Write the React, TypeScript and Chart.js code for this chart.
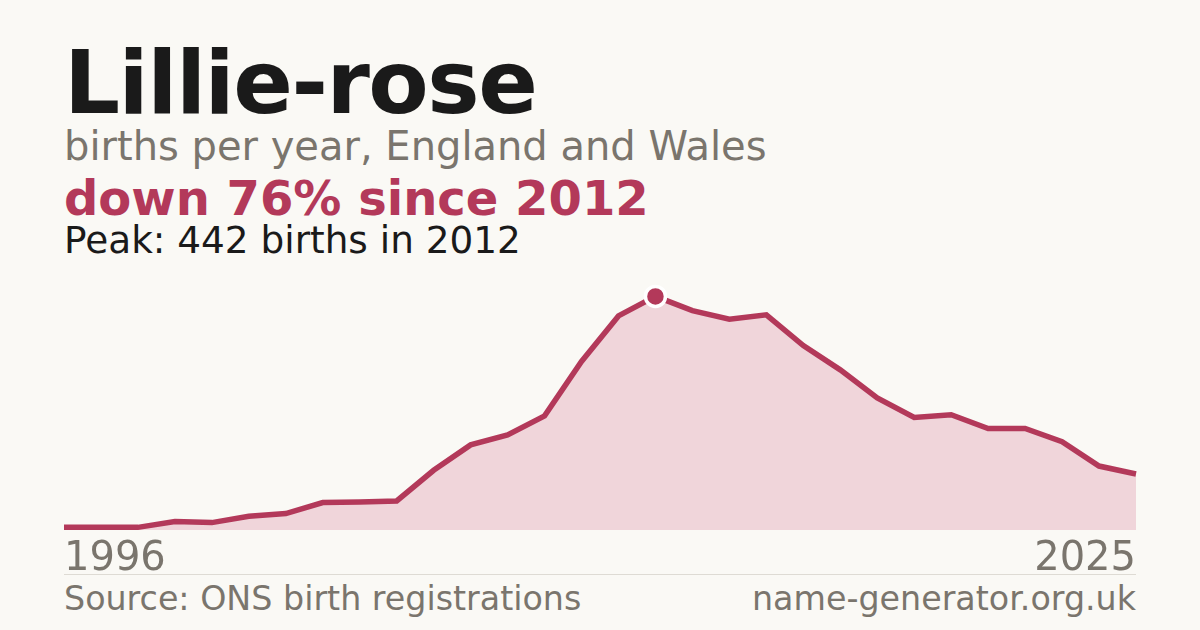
import { useEffect, useRef } from 'react';
import { Chart, registerables } from 'chart.js';

Chart.register(...registerables);

const years = ['1996', '1997', '1998', '1999', '2000', '2001', '2002', '2003', '2004', '2005',
    '2006', '2007', '2008', '2009', '2010', '2011', '2012', '2013', '2014', '2015',
    '2016', '2017', '2018', '2019', '2020', '2021', '2022', '2023', '2024', '2025'];
const births = [5, 5, 5, 16, 14, 26, 31, 52, 53, 55,
    113, 161, 180, 216, 319, 405, 442, 415, 399, 407,
    349, 303, 250, 213, 218, 192, 192, 167, 121, 106];

const firstYear = years[0];
const lastYear = years[years.length - 1];

const RED = '#b3395a';
const FILL = '#f0d5da';
const BG = '#faf9f5';
const GREY = '#7a756d';
const FONT = '"DejaVu Sans", sans-serif';

// line-height 1 in DejaVu Sans puts the baseline ~0.846em below the top
const textAt = (baseline: number, size: number) => baseline - 0.846 * size;

const BirthsChart: React.FC = () => {
    const chartRef = useRef<HTMLCanvasElement>(null);

    useEffect(() => {
        if (!chartRef.current) return;
        const ctx = chartRef.current.getContext('2d');
        if (!ctx) return;

        const peak = Math.max(...births);
        const peakIndex = births.indexOf(peak);

        const chart = new Chart(ctx, {
            type: 'line',
            data: {
                labels: years,
                datasets: [
                    {
                        data: births,
                        borderColor: RED,
                        borderWidth: 5.5,
                        backgroundColor: FILL,
                        fill: 'origin',
                        tension: 0,
                        borderJoinStyle: 'miter',
                        pointRadius: (c: any) => (c.dataIndex === peakIndex ? 10 : 0),
                        pointBackgroundColor: RED,
                        pointBorderColor: '#ffffff',
                        pointBorderWidth: 3.5,
                        clip: false as any,
                    }
                ]
            },
            options: {
                animation: false,
                responsive: false,
                layout: { padding: { left: 20, right: 20, top: 10, bottom: 10 } },
                scales: {
                    x: { display: false, offset: false },
                    y: { display: false, min: 0, max: Math.round(peak * 1.07) }
                },
                plugins: {
                    legend: { display: false },
                    tooltip: { enabled: false }
                }
            }
        });

        return () => {
            chart.destroy();
        }
    }, []);

    return (
        <canvas
            ref={chartRef}
            width={1112}
            height={270}
            style={{ position: 'absolute', left: 44, top: 270, width: 1112, height: 270 }}
        ></canvas>
    );
};

const App: React.FC = () => {
    const base: React.CSSProperties = {
        position: 'absolute',
        fontFamily: FONT,
        lineHeight: 1,
        whiteSpace: 'nowrap',
        margin: 0,
    };
    return (
        <div style={{ position: 'fixed', left: 0, top: 0, width: 1200, height: 630, background: BG, overflow: 'hidden' }}>
            <div style={{ ...base, left: 64, top: textAt(113, 88), fontSize: 88, fontWeight: 700, color: '#1a1a1a', letterSpacing: -1.5 }}>
                Lillie-rose
            </div>
            <div style={{ ...base, left: 64, top: textAt(160, 40), fontSize: 40, color: GREY }}>
                births per year, England and Wales
            </div>
            <div style={{ ...base, left: 64, top: textAt(215, 48), fontSize: 48, fontWeight: 700, color: RED }}>
                down 76% since 2012
            </div>
            <div style={{ ...base, left: 64, top: textAt(254, 37.4), fontSize: 37.4, color: '#1a1a1a' }}>
                Peak: 442 births in 2012
            </div>

            <BirthsChart />

            <div style={{ ...base, left: 64, top: textAt(570, 40), fontSize: 40, color: GREY }}>{firstYear}</div>
            <div style={{ ...base, right: 64, top: textAt(570, 40), fontSize: 40, color: GREY }}>{lastYear}</div>
            <div style={{ position: 'absolute', left: 64, width: 1072, top: 574, height: 1, background: '#dedbd4' }}></div>
            <div style={{ ...base, left: 64, top: textAt(610, 33.3), fontSize: 33.3, color: GREY }}>
                Source: ONS birth registrations
            </div>
            <div style={{ ...base, right: 64, top: textAt(610, 33.3), fontSize: 33.3, color: GREY }}>
                name-generator.org.uk
            </div>
        </div>
    );
};

export default App;
